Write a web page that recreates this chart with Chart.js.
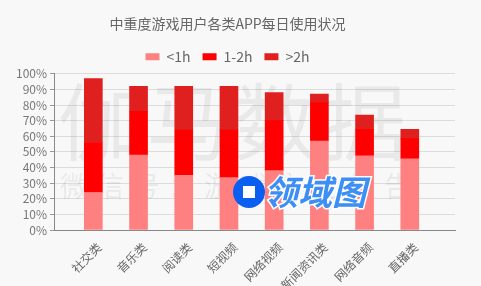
<!DOCTYPE html>
<html>
<head>
<meta charset="utf-8">
<script src="https://cdn.jsdelivr.net/npm/chart.js@4.4.1/dist/chart.umd.min.js"></script>
<style>
  html, body { margin: 0; padding: 0; background: #f8f8f8; }
  #wrap { width: 481px; height: 286px; }
</style>
</head>
<body>
<div id="wrap"><canvas id="appChart"></canvas></div>
<script>
// categories and series (percent of users)
const categories = ['社交类', '音乐类', '阅读类', '短视频', '网络视频', '新闻资讯类', '网络音频', '直播类'];
const under1h = [24, 48, 35, 33.5, 38, 57, 47.5, 45.5];
const from1to2h = [32, 28, 29, 30.5, 32, 24.5, 17, 13];
const over2h = [41, 16, 28, 28, 18, 5.5, 9, 6];
const yTicks = [0, 10, 20, 30, 40, 50, 60, 70, 80, 90, 100];

const FONT = '"Noto Sans CJK SC", "Noto Sans", sans-serif';

const toPoints = (arr) => arr.map((v, i) => ({ x: i, y: v }));

// faint watermark behind the bars, blue badge on top
const watermark = {
    id: 'watermark',
    beforeDatasetsDraw(chart) {
        const ctx = chart.ctx;
        ctx.save();
        ctx.fillStyle = 'rgba(0,0,0,0.06)';
        ctx.textBaseline = 'middle';
        ctx.font = '84px ' + FONT;
        const big = '伽马数据';
        for (let i = 0; i < big.length; i++) {
            ctx.fillText(big[i], 58 + i * 88, 122);
        }
        ctx.font = '28px ' + FONT;
        const small = '微信号：游戏产业报告';
        for (let i = 0; i < small.length; i++) {
            ctx.fillText(small[i], 60 + i * 36, 186);
        }
        ctx.restore();
    },
    afterDatasetsDraw(chart) {
        const ctx = chart.ctx;
        ctx.save();
        ctx.fillStyle = '#0b5ff0';
        ctx.beginPath();
        ctx.arc(249, 192, 16, 0, Math.PI * 2);
        ctx.fill();
        ctx.fillStyle = '#ffffff';
        ctx.fillRect(243, 186, 12, 12);
        ctx.font = 'italic bold 34px ' + FONT;
        ctx.textBaseline = 'middle';
        ctx.lineWidth = 3;
        ctx.strokeStyle = '#ffffff';
        ctx.strokeText('领域图', 264, 192);
        ctx.fillStyle = '#3d8ef5';
        ctx.fillText('领域图', 264, 192);
        ctx.restore();
    }
};

const ctxApp = document.getElementById('appChart').getContext('2d');
const appChart = new Chart(ctxApp, {
    type: 'bar',
    data: {
        datasets: [
            { label: '<1h', data: toPoints(under1h), backgroundColor: '#ff8080', barThickness: 18 },
            { label: '1-2h', data: toPoints(from1to2h), backgroundColor: '#ff0000', barThickness: 18 },
            { label: '>2h', data: toPoints(over2h), backgroundColor: '#e01f1f', barThickness: 18 }
        ]
    },
    options: {
        responsive: true,
        maintainAspectRatio: false,
        animation: false,
        layout: { padding: { left: 0, right: 26, top: 8, bottom: 0 } },
        scales: {
            x: {
                type: 'linear',
                stacked: true,
                offset: false,
                min: -0.87,
                max: 8,
                afterBuildTicks: (scale) => {
                    scale.ticks = categories.map((_, i) => ({ value: i }));
                },
                afterFit: (scale) => { scale.height = 56; },
                grid: { display: false },
                border: { display: true, color: '#888', width: 1 },
                ticks: {
                    autoSkip: false,
                    maxRotation: 45,
                    minRotation: 45,
                    padding: 2,
                    labelOffset: 6,
                    color: '#666',
                    font: { family: FONT, size: 12 },
                    callback: (v) => categories[v]
                }
            },
            y: {
                stacked: true,
                min: 0,
                max: 100,
                afterBuildTicks: (scale) => {
                    scale.ticks = yTicks.map(v => ({ value: v }));
                },
                afterFit: (scale) => { scale.width = 54; },
                grid: { color: '#dcdcdc', tickColor: '#999', tickLength: 4 },
                border: { display: true, color: '#888', width: 1 },
                ticks: {
                    autoSkip: false,
                    padding: 3,
                    color: '#777',
                    font: { family: FONT, size: 12 },
                    callback: (v) => v + '%'
                }
            }
        },
        plugins: {
            title: {
                display: true,
                text: '中重度游戏用户各类APP每日使用状况',
                color: '#666',
                font: { family: FONT, size: 14, weight: 'normal' },
                padding: { top: 7, bottom: 6 }
            },
            legend: {
                display: true,
                position: 'top',
                labels: {
                    boxWidth: 14,
                    boxHeight: 7,
                    color: '#666',
                    font: { family: FONT, size: 14 },
                    padding: 12
                }
            },
            tooltip: { enabled: false }
        }
    },
    plugins: [watermark]
});
</script>
</body>
</html>
